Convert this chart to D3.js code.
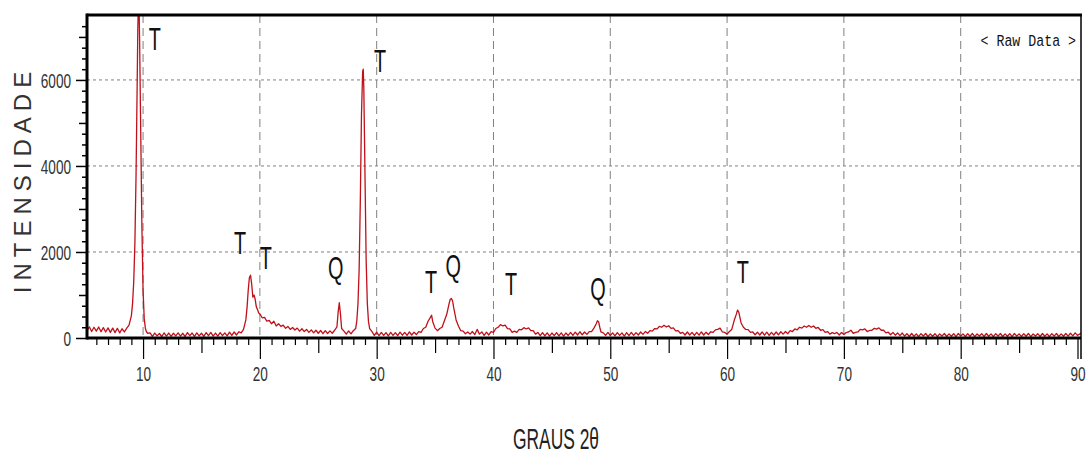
<!DOCTYPE html>
<html>
<head>
<meta charset="utf-8">
<script src="https://cdn.jsdelivr.net/npm/d3@7"></script>
<style>
  body { margin: 0; background: #fff; }
  svg { display: block; }
</style>
</head>
<body>
<svg id="chart"></svg>
<script>
// XRD raw pattern: [2θ, counts]
const lowAngle = [
  [5.0,280],[5.2,170],[5.4,260],[5.6,150],[5.8,250],[6.0,160],[6.2,255],[6.4,145],[6.6,240],[6.8,140],
  [7.0,235],[7.2,130],[7.4,230],[7.6,125],[7.8,225],[8.0,120],[8.2,215],[8.4,140],[8.6,230],[8.8,300],
  [9.0,520],[9.1,800],[9.2,1300],[9.3,2200],[9.4,3800],[9.5,6000],[9.55,7200],[9.6,7800],[9.65,7800],
  [9.7,7000],[9.8,4800],[9.9,2600],[10.0,1100],[10.1,450],[10.2,220],[10.3,140],[10.4,110],
  [10.6,120],[10.8,40],[11.0,115],[11.2,50],[11.4,105],[11.6,35],[11.8,120],[12.0,45],[12.2,115],[12.4,40],
  [12.6,110],[12.8,50],[13.0,120],[13.2,45],[13.4,110],[13.6,35],[13.8,125],[14.0,55],[14.2,115],[14.4,40],
  [14.6,120],[14.8,50],[15.0,110],[15.2,40],[15.4,125],[15.6,55],[15.8,130],[16.0,45],[16.2,115],[16.4,45],
  [16.6,125],[16.8,55],[17.0,120],[17.2,50],[17.4,135],[17.6,60],[17.8,140],[18.0,70],[18.2,145],[18.4,120]
];
const midAngle = [
  [18.6,200],[18.8,420],[18.9,700],[19.0,1100],[19.1,1400],[19.2,1460],[19.3,1250],[19.4,950],[19.5,1000],
  [19.6,900],[19.7,720],[19.8,660],[19.9,580],[20.0,560],[20.2,470],[20.4,480],[20.6,390],[20.8,410],
  [21.0,330],[21.2,390],[21.4,280],[21.6,330],[21.8,270],[22.0,300],[22.2,225],[22.4,270],[22.6,200],
  [22.8,245],[23.0,185],[23.2,230],[23.4,160],[23.6,215],[23.8,150],[24.0,200],[24.2,130],[24.4,190],
  [24.6,120],[24.8,180],[25.0,110],[25.2,175],[25.4,100],[25.6,170],[25.8,105],[26.0,165],[26.2,110],
  [26.4,180],[26.6,260],[26.7,600],[26.8,820],[26.9,560],[27.0,220],[27.2,160],[27.4,90],[27.6,165],
  [27.8,95],[28.0,170],[28.2,220],[28.3,400],[28.4,800],[28.5,1600],[28.6,3200],[28.7,5200],[28.8,6200],
  [28.85,6250],[28.9,5800],[29.0,3800],[29.1,1800],[29.2,800],[29.3,380],[29.4,220],[29.6,150],
  [29.8,60],[30.0,135],[30.2,55],[30.4,130],[30.6,60],[30.8,125],[31.0,50],[31.2,130],[31.4,60],
  [31.6,125],[31.8,55],[32.0,135],[32.2,65],[32.4,130],[32.6,60],[32.8,140],[33.0,70],[33.2,135],
  [33.4,80],[33.6,150],[33.8,130],[34.0,220],[34.2,250],[34.4,390],[34.6,480],[34.7,530],[34.8,380],
  [35.0,230],[35.2,170],[35.4,220],[35.6,250],[35.8,400],[36.0,550],[36.2,800],[36.3,900],[36.4,920],
  [36.5,860],[36.6,700],[36.8,420],[37.0,280],[37.2,170],[37.4,160],[37.6,100],[37.8,140],[38.0,90],
  [38.2,150],[38.4,80],[38.6,200],[38.8,90],[39.0,140],[39.2,60],[39.4,135],[39.6,70],[39.8,150],
  [40.0,130],[40.2,220],[40.4,250],[40.6,310],[40.8,280],[41.0,300],[41.2,220],[41.4,210],[41.6,130],
  [41.8,160],[42.0,130],[42.2,200],[42.4,190],[42.6,240],[42.8,210],[43.0,235],[43.2,170],[43.4,170],
  [43.6,90],[43.8,130],[44.0,55],[44.2,125],[44.4,50],[44.6,120],[44.8,45],[45.0,115],[45.2,55],
  [45.4,125],[45.6,50],[45.8,120],[46.0,45],[46.2,115],[46.4,60],[46.6,130],[46.8,60],[47.0,135],
  [47.2,70],[47.4,145],[47.6,75],[47.8,140],[48.0,85],[48.2,150],[48.4,150],[48.6,230],[48.8,330],
  [48.9,400],[49.0,380],[49.1,250],[49.2,140],[49.4,120],[49.6,60],[49.8,130],[50.0,55]
];
const highAngle = [
  [50.2,120],[50.4,50],[50.6,125],[50.8,60],[51.0,120],[51.2,45],[51.4,125],[51.6,55],[51.8,130],[52.0,60],
  [52.2,125],[52.4,70],[52.6,140],[52.8,85],[53.0,150],[53.2,110],[53.4,170],[53.6,160],[53.8,220],
  [54.0,210],[54.2,270],[54.4,250],[54.6,295],[54.8,255],[55.0,285],[55.2,225],[55.4,235],[55.6,165],
  [55.8,170],[56.0,110],[56.2,130],[56.4,70],[56.6,140],[56.8,70],[57.0,130],[57.2,60],[57.4,130],
  [57.6,65],[57.8,140],[58.0,70],[58.2,135],[58.4,80],[58.6,145],[58.8,130],[59.0,190],[59.2,200],
  [59.4,230],[59.6,140],[59.8,130],[60.0,90],[60.2,150],[60.4,200],[60.6,400],[60.8,560],[60.9,650],
  [61.0,600],[61.2,350],[61.4,250],[61.6,200],[61.8,195],[62.0,130],[62.2,140],[62.4,75],[62.6,135],
  [62.8,70],[63.0,140],[63.2,65],[63.4,135],[63.6,60],[63.8,130],[64.0,70],[64.2,140],[64.4,75],
  [64.6,145],[64.8,90],[65.0,150],[65.2,100],[65.4,170],[65.6,150],[65.8,210],[66.0,190],[66.2,250],
  [66.4,230],[66.6,280],[66.8,250],[67.0,290],[67.2,250],[67.4,280],[67.6,225],[67.8,245],[68.0,180],
  [68.2,195],[68.4,130],[68.6,150],[68.8,90],[69.0,125],[69.2,100],[69.4,130],[69.6,70],[69.8,130],
  [70.0,80],[70.2,125],[70.4,140],[70.6,180],[70.8,110],[71.0,130],[71.2,140],[71.4,200],[71.6,190],
  [71.8,210],[72.0,150],[72.2,175],[72.4,180],[72.6,225],[72.8,205],[73.0,235],[73.2,180],[73.4,180],
  [73.6,120],[73.8,135],[74.0,75],[74.2,130],[74.4,65],[74.6,120],[74.8,55],[75.0,115],
  [75.2,45],[75.4,100],[75.6,35],[75.8,105],[76.0,40],[76.2,95],[76.4,30],[76.6,100],[76.8,45],[77.0,105],
  [77.2,35],[77.4,95],[77.6,40],[77.8,100],[78.0,30],[78.2,95],[78.4,45],[78.6,105],[78.8,35],[79.0,95],
  [79.2,40],[79.4,100],[79.6,30],[79.8,105],[80.0,45],[80.2,95],[80.4,35],[80.6,100],[80.8,40],[81.0,105],
  [81.2,30],[81.4,95],[81.6,45],[81.8,100],[82.0,35],[82.2,105],[82.4,40],[82.6,95],[82.8,30],[83.0,100],
  [83.2,45],[83.4,105],[83.6,35],[83.8,95],[84.0,40],[84.2,100],[84.4,30],[84.6,105],[84.8,45],[85.0,95],
  [85.2,35],[85.4,100],[85.6,40],[85.8,105],[86.0,30],[86.2,95],[86.4,45],[86.6,100],[86.8,35],[87.0,105],
  [87.2,40],[87.4,95],[87.6,30],[87.8,100],[88.0,45],[88.2,105],[88.4,35],[88.6,95],[88.8,40],[89.0,105],
  [89.2,45],[89.4,110],[89.6,50],[89.8,120],[90.0,60],[90.3,110]
];

// phase markers (T / Q) and where their letters sit, in data units
const peakPhase  = ['T', 'T', 'T', 'T', 'Q', 'T', 'Q', 'T', 'Q', 'T'];
const peakAngle  = [11.0, 30.3, 18.3, 20.5, 26.5, 34.65, 36.55, 41.5, 48.95, 61.35];
const peakLabelY = [6700, 6185, 1950, 1600, 1370, 1045, 1420, 1000, 885, 1280];

const yTickLabels = [0, 2000, 4000, 6000];
const xTickLabels = [10, 20, 30, 40, 50, 60, 70, 80, 90];

const width = 1088, height = 457;
const margin = {top: 15, right: 7, bottom: 119, left: 87};
const sans = '"Liberation Sans", Arial, sans-serif';

const svg = d3.select('#chart').attr('width', width).attr('height', height);

const x = d3.scaleLinear().domain([5.2, 90.3]).range([margin.left, width - margin.right]);
const y = d3.scaleLinear().domain([0, 7510]).range([height - margin.bottom, margin.top]);

// squeeze text horizontally (no condensed face installed)
function narrowText(sel, px, py, sx) {
  sel.attr('x', 0).attr('y', 0)
    .attr('transform', `translate(${px},${py}) scale(${sx},1)`);
}

svg.append('defs').append('clipPath').attr('id', 'plot')
  .append('rect')
  .attr('x', margin.left).attr('y', margin.top)
  .attr('width', x.range()[1] - margin.left).attr('height', y(0) - margin.top);

// grid
svg.append('g').selectAll('line').data(xTickLabels.filter(d => d < 90)).join('line')
  .attr('x1', d => x(d)).attr('x2', d => x(d))
  .attr('y1', margin.top).attr('y2', y(0))
  .attr('stroke', '#808080').attr('stroke-width', 1).attr('stroke-dasharray', '8,5');
svg.append('g').selectAll('line').data(yTickLabels.filter(d => d > 0)).join('line')
  .attr('x1', margin.left).attr('x2', x.range()[1])
  .attr('y1', d => y(d)).attr('y2', d => y(d))
  .attr('stroke', '#808080').attr('stroke-width', 1).attr('stroke-dasharray', '3,3');

// pattern line
const pattern = lowAngle.concat(midAngle, highAngle);
const line = d3.line().x(d => x(d[0])).y(d => y(d[1]));
svg.append('path')
  .datum(pattern)
  .attr('clip-path', 'url(#plot)')
  .attr('fill', 'none')
  .attr('stroke', '#c0101a')
  .attr('stroke-width', 1.3)
  .attr('stroke-linejoin', 'round')
  .attr('d', line);

// x axis, three tick lengths
const xMinor = d3.range(6, 91).filter(d => d % 5 !== 0);
const xMid = [15, 25, 35, 45, 55, 65, 75, 85];
function xAxis(vals, len, labels) {
  const g = svg.append('g')
    .attr('transform', `translate(0,${y(0)})`)
    .call(d3.axisBottom(x).tickValues(vals).tickSize(len).tickSizeOuter(0)
      .tickFormat(labels ? d3.format('d') : ''));
  g.select('.domain').remove();
  g.selectAll('line').attr('stroke', '#000').attr('stroke-width', 1.2);
  return g;
}
xAxis(xMinor, 7, false);
xAxis(xMid, 15, false);
const xg = xAxis(xTickLabels, 21, true);
xg.selectAll('text')
  .attr('font-family', sans)
  .attr('font-size', 20)
  .attr('fill', '#333')
  .attr('dy', null)
  .each(function() { narrowText(d3.select(this), 0, 43, 0.68); });

// y axis, three tick lengths
const yMinor = d3.range(250, 7500, 250).filter(d => d % 1000 !== 0);
const yMid = [1000, 3000, 5000, 7000];
function yAxis(vals, len, labels) {
  const g = svg.append('g')
    .attr('transform', `translate(${margin.left},0)`)
    .call(d3.axisLeft(y).tickValues(vals).tickSize(len).tickSizeOuter(0)
      .tickFormat(labels ? d3.format('d') : ''));
  g.select('.domain').remove();
  g.selectAll('line').attr('stroke', '#000').attr('stroke-width', 1.5);
  return g;
}
yAxis(yMinor, 5, false);
yAxis(yMid, 8, false);
const yg = yAxis(yTickLabels, 11, true);
yg.selectAll('text')
  .attr('font-family', sans)
  .attr('font-size', 20)
  .attr('fill', '#333')
  .attr('dy', null)
  .each(function() { narrowText(d3.select(this), -16, 7.5, 0.68); });

// frame
const xr = x.range()[1];
svg.append('line').attr('x1', margin.left).attr('x2', xr + 1).attr('y1', margin.top).attr('y2', margin.top)
  .attr('stroke', '#000').attr('stroke-width', 3);
svg.append('line').attr('x1', xr).attr('x2', xr).attr('y1', margin.top).attr('y2', y(0) + 21)
  .attr('stroke', '#000').attr('stroke-width', 1.5);
svg.append('line').attr('x1', margin.left).attr('x2', margin.left).attr('y1', margin.top - 1.5).attr('y2', y(0) + 1.5)
  .attr('stroke', '#000').attr('stroke-width', 3);
svg.append('line').attr('x1', margin.left).attr('x2', xr).attr('y1', y(0)).attr('y2', y(0))
  .attr('stroke', '#000').attr('stroke-width', 3);

// phase letters
svg.append('g').selectAll('text').data(peakPhase).join('text')
  .attr('font-family', sans)
  .attr('text-anchor', 'middle')
  .attr('font-size', 32)
  .attr('fill', '#111')
  .text(d => d)
  .each(function(d, i) { narrowText(d3.select(this), x(peakAngle[i]), y(peakLabelY[i]), 0.62); });

// legend
svg.append('text')
  .attr('text-anchor', 'end')
  .attr('font-family', '"Liberation Mono", "DejaVu Sans Mono", monospace')
  .attr('font-size', 17)
  .attr('fill', '#111')
  .text('< Raw Data >')
  .call(narrowText, xr - 5, 46, 0.78);

// axis titles
svg.append('text')
  .attr('transform', `translate(31,${(margin.top + y(0)) / 2 + 3}) rotate(-90)`)
  .attr('text-anchor', 'middle')
  .attr('font-family', sans)
  .attr('font-size', 24)
  .attr('letter-spacing', 6)
  .attr('fill', '#333')
  .text('INTENSIDADE');

svg.append('text')
  .attr('text-anchor', 'middle')
  .attr('font-family', sans)
  .attr('font-size', 29)
  .attr('fill', '#222')
  .text('GRAUS 2θ')
  .call(narrowText, 556, 449, 0.6);
</script>
</body>
</html>
